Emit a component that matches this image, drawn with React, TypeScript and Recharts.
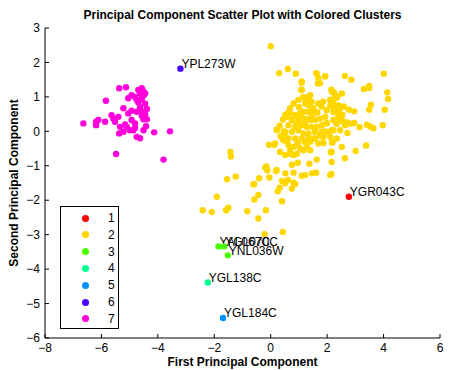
import React from 'react';
import { ScatterChart, Scatter, XAxis, YAxis } from 'recharts';

// axis ticks
const X_TICKS = [-8, -6, -4, -2, 0, 2, 4, 6];
const Y_TICKS = [-6, -5, -4, -3, -2, -1, 0, 1, 2, 3];

const CLUSTER_NAMES = ['1', '2', '3', '4', '5', '6', '7'];
const CLUSTER_COLORS = ['#ff0000', '#ffd700', '#49ff00', '#00ff92', '#0092ff', '#4900ff', '#ff00db'];

// [x, y, gene label]
const CLUSTER_1: [number, number, string][] = [[2.77, -1.9, 'YGR043C']];

const CLUSTER_2: [number, number][] = [
  [0, 2.47], [0.3, 1.69], [0.61, 1.81], [0.89, 1.67], [1.1, 1.45], [1.1, 1.21], [1.61, 1.69], [1.69, 1.55],
  [1.75, 1.4], [1.93, 1.59], [2.63, 1.61], [2.86, 1.5], [3.3, 1.23], [3.49, 1.32], [3.49, 1.26], [4.01, 1.67],
  [4.13, 1.13], [4.16, 0.94], [4.04, 0.63], [3.55, 0.77], [3.49, 0.63], [3.97, 0.18], [3.41, 0.19], [3.53, 0.14],
  [3.64, 0.09], [3.15, 0.12], [2.96, 0.24], [2.96, 0.58], [2.77, 0.63], [2.59, 0.72], [2.54, 0.48], [2.42, 0.63],
  [2.24, 0.72], [2.21, 0.84], [2.13, 0.92], [2.24, 1.13], [2.15, 1.21], [2.36, 1.01], [2.72, 0.26], [2.84, 0.22],
  [2.72, -0.05], [2.63, -0.78], [3.01, -0.57], [3.38, -0.41], [2.13, -0.61], [2.19, -0.32], [2.16, -0.89], [2.15, -1.24],
  [1.87, -0.34], [1.81, -0.15], [1.89, 0.0], [1.98, 0.24], [2.27, 0.34], [2.33, 0.26], [1.61, -1.2], [1.46, -1.22],
  [1.37, -0.94], [1.1, -1.29], [0.96, -0.91], [0.75, -0.97], [0.81, -1.2], [0.52, -1.22], [0.4, -1.44], [0.21, -1.12],
  [0.12, -0.39], [-0.06, -0.39], [-0.15, -1.02], [-0.12, -1.13], [-0.41, -1.36], [-0.59, -1.53], [-1.24, -1.31], [-1.55, -1.39],
  [-1.41, -0.73], [-1.43, -0.6], [0.61, -1.41], [0.81, -1.49], [-2.41, -2.29], [-2.09, -2.34], [-1.91, -1.9], [-1.58, -2.29],
  [-1.5, -2.22], [-0.83, -2.32], [-0.58, -1.98], [-0.44, -1.85], [-0.44, -2.53], [-0.17, -2.29], [-0.22, -2.99], [0.43, -2.92],
  [0.4, -2.03], [0.25, -1.74], [0.32, -1.64], [0.75, -1.66], [-0.61, -1.54], [-0.19, -1.05], [-0.05, -1.34], [0.19, -1.15],
  [0.87, -1.53], [0.51, -1.51], [1.22, -1.27], [2.11, -1.27], [1.63, -0.82], [2.14, -0.59], [2.17, -0.33],
  [1.22, 0.81], [1.34, 0.76], [1.51, 0.67], [1.16, 0.57], [1.34, 0.57], [1.51, 0.52], [1.04, 0.52], [0.87, 0.47],
  [0.69, 0.52], [0.57, 0.42], [0.75, 0.33], [0.98, 0.33], [1.22, 0.37], [1.4, 0.33], [1.57, 0.33], [1.75, 0.37],
  [1.93, 0.42], [0.63, 0.18], [0.87, 0.13], [1.1, 0.18], [1.28, 0.13], [1.46, 0.13], [1.63, 0.13], [1.81, 0.18],
  [1.99, 0.23], [0.51, -0.01], [0.75, -0.01], [0.98, 0.03], [1.16, -0.06], [1.34, -0.06], [1.57, -0.01], [1.81, -0.01],
  [2.05, -0.01], [0.63, -0.21], [0.87, -0.21], [1.1, -0.21], [1.34, -0.21], [1.57, -0.21], [1.87, -0.16], [2.11, -0.16],
  [2.34, -0.21], [0.22, 0.03], [0.45, -0.26], [0.63, -0.4], [0.81, -0.45], [1.04, -0.5], [1.28, -0.45], [1.4, -0.3],
  [1.52, -0.21], [1.75, -0.11], [1.99, -0.02], [2.22, 0.03], [2.34, 0.22], [2.46, 0.33], [0.16, -0.35], [0.33, -0.6],
  [0.51, -0.69], [0.69, -0.65], [0.93, -0.65], [1.16, -0.55], [1.4, -0.55], [1.69, -0.35], [2.16, -0.6], [2.52, -0.45],
  [2.64, 0.18], [2.4, 0.47], [1.63, 1.68], [1.93, 1.6], [1.67, 1.39], [1.1, 1.41], [1.08, 1.2], [2.17, 1.15],
  [2.28, 1.05], [2.33, 0.97], [2.52, 1.1], [2.11, 0.91], [1.34, 1.0], [1.4, 1.05], [1.24, 0.91], [1.45, 0.86],
  [1.69, 0.81], [1.8, 0.72], [1.86, 0.86], [2.11, 0.75], [2.4, 0.76], [2.33, 0.61], [2.52, 0.71], [2.52, 0.47],
  [2.22, 0.56], [1.98, 0.61], [2.58, 0.28], [2.33, 0.23], [2.22, 0.33], [2.46, 0.03], [2.17, 0.03],
  [0.21, 0.05], [0.32, 0.16], [0.43, 0.34], [0.52, 0.48], [0.63, 0.55], [0.69, 0.67], [0.81, 0.81], [0.98, 0.91],
  [0.52, -0.15], [0.58, -0.3], [0.69, -0.54], [0.81, -0.69], [0.46, 0.0], [0.9, 0.2], [1.05, 0.45], [1.2, 0.25],
  [1.0, 0.7], [1.15, 1.0], [0.95, -0.35], [1.2, -0.3], [1.45, 0.45], [1.65, 0.55], [0.35, -0.15],
];

const CLUSTER_3: [number, number, string][] = [
  [-1.85, -3.34, 'YAL067C'],
  [-1.65, -3.34, 'YGL070C'],
  [-1.52, -3.6, 'YNL036W'],
];
const CLUSTER_4: [number, number, string][] = [[-2.23, -4.39, 'YGL138C']];
const CLUSTER_5: [number, number, string][] = [[-1.69, -5.42, 'YGL184C']];
const CLUSTER_6: [number, number, string][] = [[-3.2, 1.82, 'YPL273W']];

const CLUSTER_7: [number, number][] = [
  [-6.64, 0.23], [-6.19, 0.28], [-6.11, 0.33], [-6.19, 0.18], [-5.87, 0.28], [-5.84, 0.89], [-5.37, 1.25], [-5.13, 1.28],
  [-5.64, 0.47], [-5.58, 0.37], [-5.52, 0.28], [-5.4, 0.42], [-5.22, 0.67], [-5.34, 0.13], [-5.22, -0.01], [-5.37, -0.06],
  [-5.48, -0.66], [-5.05, 0.52], [-4.93, 0.33], [-4.99, 0.03], [-4.87, 0.03], [-4.81, 0.23], [-4.75, 0.57], [-4.93, 0.6],
  [-5.05, 0.96], [-4.93, 1.05], [-4.81, 1.0], [-4.69, 1.2], [-4.57, 1.25], [-4.51, 1.16], [-4.63, 1.1], [-4.45, 1.1],
  [-4.57, 0.94], [-4.69, 0.84], [-4.45, 0.8], [-4.39, 0.65], [-4.63, 0.7], [-4.57, 0.45], [-4.51, 0.35], [-4.39, 0.35],
  [-4.42, 0.15], [-4.51, 0.03], [-4.75, -0.16], [-4.63, -0.2], [-4.81, 0.1], [-4.13, -0.03], [-3.57, 0.0], [-3.8, -0.82],
  [-5.16, 0.2], [-5.1, 0.13], [-4.5, 1.05], [-4.6, 0.6], [-4.45, 0.5], [-4.75, 0.92],
];

const toPoints = (arr: any[]) => arr.map(([x, y, name]) => ({ x, y, name }));

const CLUSTERS = [CLUSTER_1, CLUSTER_2, CLUSTER_3, CLUSTER_4, CLUSTER_5, CLUSTER_6, CLUSTER_7].map(toPoints);

const FONT = '"Liberation Sans", Arial, sans-serif';
const minus = (v: number) => String(v).replace('-', '\u2212');

const makeShape = (color: string) => (props: any) => {
  const { cx, cy, payload } = props;
  return (
    <g>
      <circle cx={cx} cy={cy} r={3.2} fill={color} />
      {payload.name && (
        <text x={cx + 1} y={cy - 4} fontSize={12} fontFamily={FONT} fill="#000" dominantBaseline="middle">
          {payload.name}
        </text>
      )}
    </g>
  );
};

const XLabel = () => (
  <text x={242.5} y={366} textAnchor="middle" fontSize={12} fontWeight="bold" fontFamily={FONT} fill="#000">
    First Principal Component
  </text>
);

const YLabel = () => (
  <text x={15} y={183} transform="rotate(-90 15 183)" textAnchor="middle" dominantBaseline="middle"
    fontSize={12} fontWeight="bold" fontFamily={FONT} fill="#000">
    Second Principal Component
  </text>
);

export default function App() {
  const tickStyle = { fontSize: 12, fill: '#000', fontFamily: FONT };
  return (
    <div style={{ position: 'absolute', left: 0, top: 0, width: 450, height: 370, background: '#fff', fontFamily: FONT }}>
      <div style={{ position: 'absolute', left: 45, width: 395, top: 8, textAlign: 'center', fontSize: 12, fontWeight: 'bold', lineHeight: '15px' }}>
        Principal Component Scatter Plot with Colored Clusters
      </div>
      <ScatterChart width={450} height={370} margin={{ top: 28, right: 10, bottom: 0, left: 0 }}>
        <XAxis type="number" dataKey="x" xAxisId="b" domain={[-8, 6]} ticks={X_TICKS} allowDataOverflow
          height={32} tickSize={-4} tickMargin={9} tick={tickStyle} tickFormatter={minus}
          axisLine={{ stroke: '#000' }} tickLine={{ stroke: '#000' }} label={<XLabel />} />
        <XAxis type="number" dataKey="x" xAxisId="t" orientation="top" domain={[-8, 6]} ticks={X_TICKS} allowDataOverflow
          height={0} tickSize={-4} tickFormatter={() => ''} axisLine={{ stroke: '#000' }} tickLine={{ stroke: '#000' }} />
        <YAxis type="number" dataKey="y" yAxisId="l" domain={[-6, 3]} ticks={Y_TICKS} allowDataOverflow
          width={45} tickSize={-4} tickMargin={9} tick={tickStyle} tickFormatter={minus}
          axisLine={{ stroke: '#000' }} tickLine={{ stroke: '#000' }} label={<YLabel />} />
        <YAxis type="number" dataKey="y" yAxisId="r" orientation="right" domain={[-6, 3]} ticks={Y_TICKS} allowDataOverflow
          width={0} tickSize={-4} tickFormatter={() => ''} axisLine={{ stroke: '#000' }} tickLine={{ stroke: '#000' }} />
        {CLUSTERS.map((pts, i) => (
          <Scatter key={i} name={CLUSTER_NAMES[i]} data={pts} xAxisId="b" yAxisId="l"
            fill={CLUSTER_COLORS[i]} shape={makeShape(CLUSTER_COLORS[i])} isAnimationActive={false} />
        ))}
        <Scatter data={[]} xAxisId="t" yAxisId="r" isAnimationActive={false} />
      </ScatterChart>
      <div style={{ position: 'absolute', left: 60, top: 206, width: 57, height: 121, border: '1px solid #000', background: '#fff' }}>
        {CLUSTER_NAMES.map((n, i) => (
          <div key={n} style={{ position: 'absolute', left: 0, top: 3 + i * 16.8, width: 57, height: 16, fontSize: 12, lineHeight: '16px' }}>
            <span style={{ position: 'absolute', left: 21, top: 4.5, width: 7, height: 7, borderRadius: '50%', background: CLUSTER_COLORS[i] }} />
            <span style={{ position: 'absolute', left: 47 }}>{n}</span>
          </div>
        ))}
      </div>
    </div>
  );
}
